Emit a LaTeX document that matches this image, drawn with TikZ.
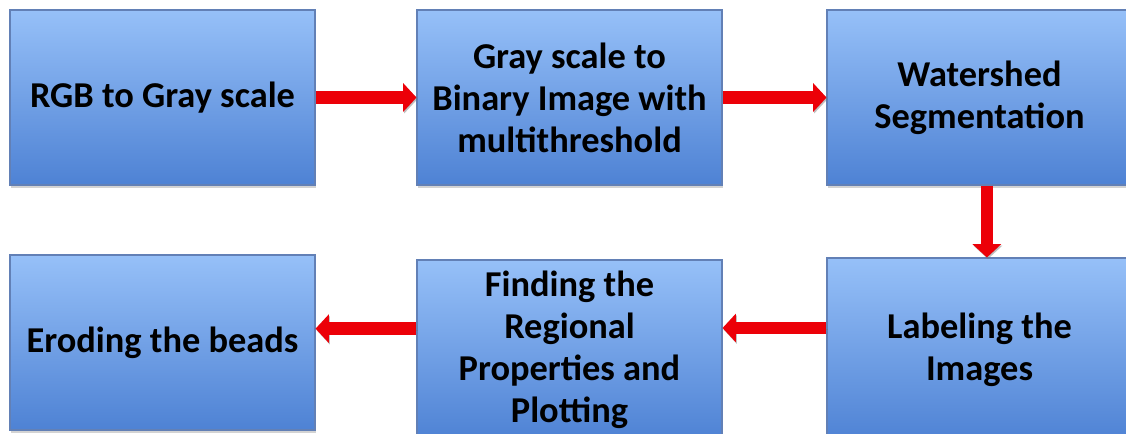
\documentclass[tikz,border=0pt]{standalone}
\usepackage{fontspec}
\setmainfont{Carlito}
\usetikzlibrary{arrows.meta,shadows}
\definecolor{boxTop}{RGB}{150,192,248}
\definecolor{boxBottom}{RGB}{78,130,212}
\definecolor{boxEdge}{RGB}{98,128,182}
\definecolor{arrowRed}{RGB}{236,0,8}
\begin{document}
\begin{tikzpicture}[
    x=0.75pt, y=-0.75pt,
    procBox/.style={draw=boxEdge, line width=0.8pt, top color=boxTop, bottom color=boxBottom,
        minimum width=228.75pt, minimum height=131.25pt, align=center, inner sep=0pt,
        font=\fontsize{27.3}{31.5}\selectfont\bfseries,
        drop shadow={shadow xshift=1pt, shadow yshift=-2pt, opacity=0.35}},
    flowArrow/.style={arrowRed, line width=9.5pt, -{Triangle[width=21pt,length=10pt]},
        preaction={draw=black!55, opacity=0.45, transform canvas={shift={(0.8pt,-1.2pt)}}}},
]
\useasboundingbox (0,0) rectangle (1126,434);

% top row
\node[procBox] (rgb) at (162.5,97.5) {RGB to Gray scale};
\node[procBox] (bin) at (569.5,97.5) {Gray scale to\\Binary Image with\\multithreshold};
\node[procBox] (ws) at (979.5,97.5) {Watershed\\Segmentation};

% bottom row
\node[procBox, minimum height=138pt] (lab) at (979.5,350) {Labeling the\\Images};
\node[procBox, minimum height=135pt] (find) at (569.5,350) {Finding the\\Regional\\Properties and\\Plotting};
\node[procBox] (erode) at (162.5,342.5) {Eroding the beads};

% arrows
\draw[flowArrow] (rgb.east) -- (bin.west);
\draw[flowArrow] (bin.east) -- (ws.west);
\draw[flowArrow] ([xshift=5.5pt]ws.south) -- ([xshift=5.5pt]ws.south |- lab.north);
\draw[flowArrow] ([yshift=16.5pt]lab.west) -- ([yshift=16.5pt]lab.west -| find.east);
\draw[flowArrow] ([yshift=16pt]find.west) -- ([yshift=16pt]find.west -| erode.east);
\end{tikzpicture}
\end{document}
